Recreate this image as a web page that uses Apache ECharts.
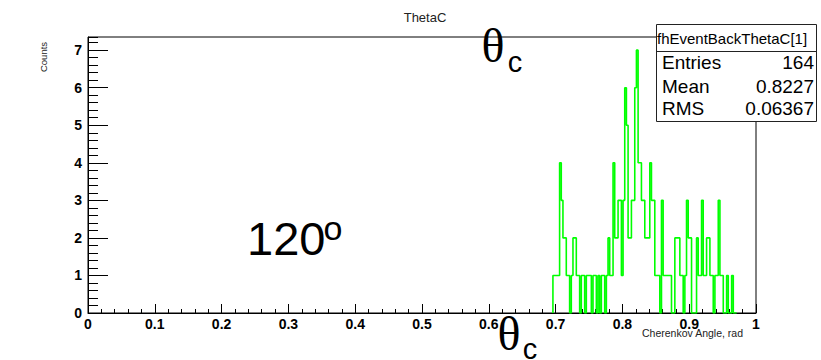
<!DOCTYPE html>
<html>
<head>
<meta charset="utf-8">
<script src="https://cdn.jsdelivr.net/npm/echarts@6/dist/echarts.min.js"></script>
<style>html,body{margin:0;padding:0;background:#fff;}#c{width:821px;height:360px;}</style>
</head>
<body>
<div id="c"></div>
<script>
// Histogram binning (Cherenkov angle, rad)
const binStart = 0.696;
const binWidth = 0.0025;
const counts = [
  1,1,1,1,4,3,2,2,1,1,
  0,1,2,2,1,1,0,1,1,0,
  1,1,1,0,1,1,0,1,0,1,
  1,0,1,2,1,1,4,2,2,3,
  3,1,3,6,5,2,2,3,3,6,
  7,4,4,3,3,2,2,2,4,3,
  3,1,1,1,0,3,1,1,1,1,
  1,0,0,2,2,2,1,1,0,1,
  3,2,2,0,0,0,2,1,1,3,
  1,1,2,2,1,1,0,1,1,3,
  1,1,0,0,1,0,0,1,0,0
];
const statsTitle = 'fhEventBackThetaC[1]';
const statsNames = ['Entries', 'Mean', 'RMS'];
const statsValues = ['164', '0.8227', '0.06367'];

const pts = [[binStart, 0]];
for (let k = 0; k < counts.length; k++) pts.push([binStart + k * binWidth, counts[k]]);
pts.push([binStart + counts.length * binWidth, 0]);

const sans = '"Liberation Sans", Arial, sans-serif';
const serif = '"Liberation Serif", "Times New Roman", serif';

const chart = echarts.init(document.getElementById('c'), null, {renderer: 'svg'});
const statsEls = [
  {type: 'rect', z: 100, shape: {x: 656.5, y: 24.5, width: 160, height: 97}, style: {fill: '#fff', stroke: '#222', lineWidth: 1}},
  {type: 'line', z: 101, shape: {x1: 656.5, y1: 51.5, x2: 816.5, y2: 51.5}, style: {stroke: '#222', lineWidth: 1}},
  {type: 'text', z: 101, x: 657, y: 38, style: {text: statsTitle, font: '15px ' + sans, fill: '#000', textAlign: 'left', textVerticalAlign: 'middle'}}
];
const rowY = [62, 86, 108];
statsNames.forEach((n, i) => {
  statsEls.push({type: 'text', z: 101, x: 662, y: rowY[i], style: {text: n, font: '19px ' + sans, fill: '#000', textAlign: 'left', textVerticalAlign: 'middle'}});
  statsEls.push({type: 'text', z: 101, x: 814, y: rowY[i], style: {text: statsValues[i], font: '19px ' + sans, fill: '#000', textAlign: 'right', textVerticalAlign: 'middle'}});
});

chart.setOption({
  animation: false,
  backgroundColor: '#fff',
  title: {text: 'ThetaC', left: 420, top: 6, textAlign: 'center',
    textStyle: {fontFamily: sans, fontSize: 13, fontWeight: 'normal', color: '#222'}},
  grid: {left: 88, right: 65, top: 37, bottom: 47, show: true, borderColor: '#000', borderWidth: 1, backgroundColor: '#fff'},
  xAxis: {
    type: 'value', min: 0, max: 1, interval: 0.1,
    axisLine: {lineStyle: {color: '#000', width: 1}},
    axisTick: {inside: true, length: 9, lineStyle: {color: '#000'}},
    minorTick: {show: true, splitNumber: 5, length: 4, lineStyle: {color: '#000'}},
    splitLine: {show: false},
    axisLabel: {margin: 4, color: '#000', fontFamily: sans, fontWeight: 'bold', fontSize: 14}
  },
  yAxis: [{
    type: 'value', min: 0, max: 7.35, interval: 1,
    axisLine: {show: true, lineStyle: {color: '#000', width: 1}},
    axisTick: {show: true, inside: true, length: 20, lineStyle: {color: '#000'}},
    splitLine: {show: false},
    axisLabel: {margin: 6, color: '#000', fontFamily: sans, fontWeight: 'bold', fontSize: 14, showMaxLabel: false}
  }, {
    type: 'value', min: 0, max: 7.35, interval: 0.2, position: 'left', offset: 0,
    axisLine: {show: false},
    axisTick: {show: true, inside: true, length: 10, lineStyle: {color: '#000'}},
    splitLine: {show: false},
    axisLabel: {show: false}
  }],
  series: [{
    type: 'line', step: 'end', data: pts, showSymbol: false, symbol: 'none',
    lineStyle: {color: '#00ff00', width: 1.6}, z: 5
  }],
  graphic: [
    {type: 'text', x: 743, y: 333, style: {text: 'Cherenkov Angle, rad', font: '10.5px ' + sans, fill: '#222', textAlign: 'right', textVerticalAlign: 'middle'}},
    {type: 'text', x: 43, y: 57, rotation: Math.PI / 2, style: {text: 'Counts', font: '9.5px ' + sans, fill: '#222', textAlign: 'center', textVerticalAlign: 'middle'}},
    {type: 'text', z: 50, x: 493, y: 45, style: {text: 'θ', font: '48px ' + serif, fill: '#000', textAlign: 'center', textVerticalAlign: 'middle'}},
    {type: 'text', z: 50, x: 515, y: 62, style: {text: 'c', font: '29px ' + sans, fill: '#000', textAlign: 'center', textVerticalAlign: 'middle'}},
    {type: 'text', z: 50, x: 509, y: 333, style: {text: 'θ', font: '48px ' + serif, fill: '#000', textAlign: 'center', textVerticalAlign: 'middle'}},
    {type: 'text', z: 50, x: 530, y: 349, style: {text: 'c', font: '29px ' + sans, fill: '#000', textAlign: 'center', textVerticalAlign: 'middle'}},
    {type: 'text', z: 50, x: 247, y: 238, style: {text: '120', font: '47px ' + sans, fill: '#000', textAlign: 'left', textVerticalAlign: 'middle'}},
    {type: 'text', z: 50, x: 333, y: 228, style: {text: 'o', font: '34px ' + sans, fill: '#000', textAlign: 'center', textVerticalAlign: 'middle'}}
  ].concat(statsEls)
});
</script>
</body>
</html>
